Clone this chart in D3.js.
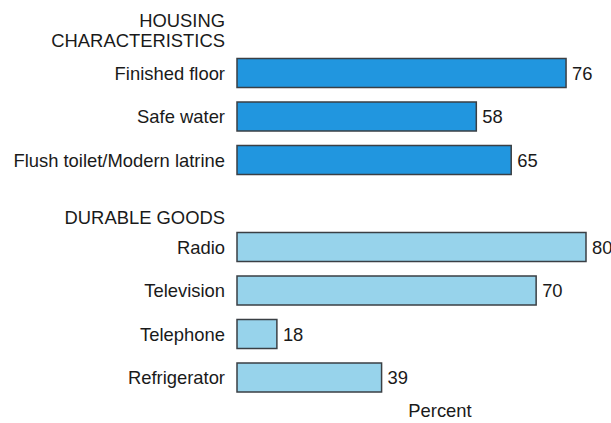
<!DOCTYPE html>
<html>
<head>
<meta charset="utf-8">
<script src="https://cdn.jsdelivr.net/npm/d3@7"></script>
<style>
  body { margin: 0; background: #fff; }
  text { font-family: "Liberation Sans", Arial, sans-serif; fill: #1a1a1a; font-size: 18.4px; }
</style>
</head>
<body>
<svg class="chart"></svg>
<script>
// data
var housingLabels = ["Finished floor", "Safe water", "Flush toilet/Modern latrine"];
var housingValues = [76, 58, 65];
var goodsLabels = ["Radio", "Television", "Telephone", "Refrigerator"];
var goodsValues = [80, 70, 18, 39];
var groupTitles = ["HOUSING\nCHARACTERISTICS", "DURABLE GOODS"];

var width = 611, height = 423;

var svg = d3.select(".chart")
    .attr("width", width)
    .attr("height", height);

// bars in the original start from 10 percent, not zero
var x = d3.scaleLinear()
    .domain([10, 80])
    .range([237, 586]);

// one slot per row, a blank slot holds the second group title
var rows = housingLabels.concat(["gap"], goodsLabels);
var y = d3.scalePoint()
    .domain(rows)
    .range([73, 377.5]);

var barH = 29;

var data = housingLabels.map(function(d, i){ return {name: d, value: housingValues[i], group: 0}; })
  .concat(goodsLabels.map(function(d, i){ return {name: d, value: goodsValues[i], group: 1}; }));

var colors = ["#2196df", "#97d3eb"];

var bar = svg.selectAll(".bar")
    .data(data)
  .enter().append("g")
    .attr("class", "bar")
    .attr("transform", function(d){ return "translate(0," + y(d.name) + ")"; });

bar.append("rect")
    .attr("x", x(10))
    .attr("y", -barH / 2)
    .attr("width", function(d){ return x(d.value) - x(10); })
    .attr("height", barH)
    .attr("fill", function(d){ return colors[d.group]; })
    .attr("stroke", "#3a3f44")
    .attr("stroke-width", 1.5);

bar.append("text")
    .attr("x", 225)
    .attr("y", 6.5)
    .attr("text-anchor", "end")
    .text(function(d){ return d.name; });

bar.append("text")
    .attr("x", function(d){ return x(d.value) + 6; })
    .attr("y", 6.5)
    .text(function(d){ return d.value; });

// group titles
var t1 = svg.append("text")
    .attr("text-anchor", "end");
groupTitles[0].split("\n").forEach(function(line, i){
  t1.append("tspan").attr("x", 225).attr("y", 27 + i * 20).text(line);
});

svg.append("text")
    .attr("x", 225)
    .attr("y", y("gap") + 20)
    .attr("text-anchor", "end")
    .text(groupTitles[1]);

svg.append("text")
    .attr("x", 440)
    .attr("y", 417)
    .attr("text-anchor", "middle")
    .text("Percent");
</script>
</body>
</html>
